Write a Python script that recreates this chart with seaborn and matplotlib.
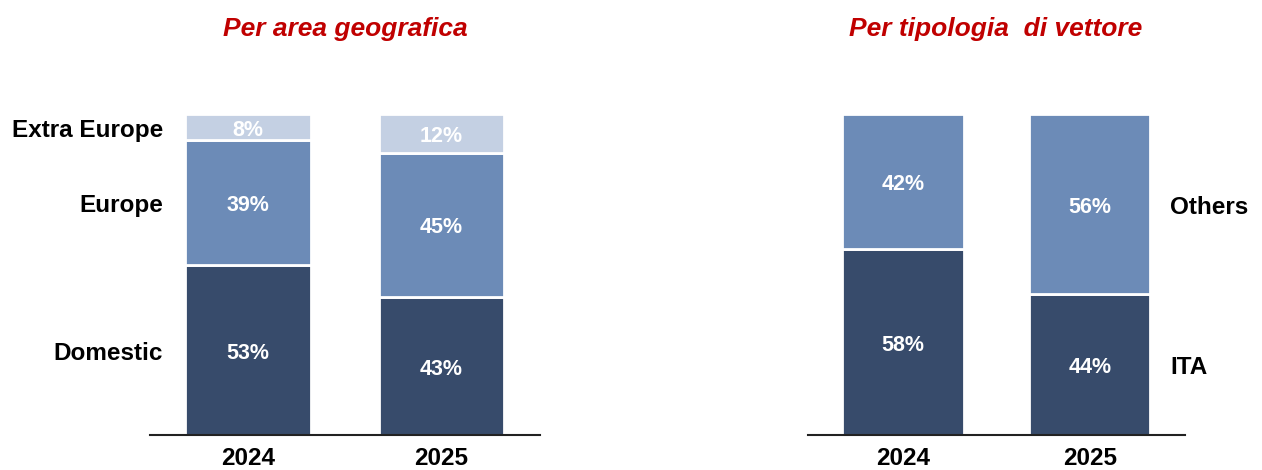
import matplotlib
matplotlib.use("Agg")
import matplotlib.pyplot as plt
import seaborn as sns
import numpy as np
import pandas as pd

sns.set_theme(style="white")
plt.rcParams['font.family'] = ['Liberation Sans', 'DejaVu Sans']

years = ["2024", "2025"]

# Left panel: by geographic area (%)
geo_series = ["Domestic", "Europe", "Extra Europe"]
domestic = [53, 43]
europe = [39, 45]
extra_europe = [8, 12]

# Right panel: by carrier type (%)
carrier_series = ["ITA", "Others"]
ita = [58, 44]
others = [42, 56]

title_left = "Per area geografica"
title_right = "Per tipologia  di vettore"

dark = "#374B6B"
mid = "#6C8BB7"
light = "#C4D0E3"
red = "#C00000"

fig = plt.figure(figsize=(12.62, 4.70), dpi=100)
axL = fig.add_axes([150/1262, 35/470, 390/1262, 321/470])
axR = fig.add_axes([808/1262, 35/470, 377/1262, 321/470])

dy = -0.01  # small downward nudge for text centring


def stacked(ax, series_vals, colors, label_names, label_side):
    bottom = np.zeros(len(years))
    for vals, col, name in zip(series_vals, colors, label_names):
        vals = np.array(vals, dtype=float)
        df = pd.DataFrame({"year": years, "v": vals / 100.0, "b": bottom / 100.0})
        sns.barplot(data=df, x="year", y="v", ax=ax, color=col, width=0.65,
                    bottom=df["b"].values, edgecolor="white", linewidth=2,
                    saturation=1, order=years)
        for i, v in enumerate(vals):
            ax.text(i, (bottom[i] + v / 2) / 100.0 + dy, f"{int(v)}%", ha="center",
                    va="center", color="white", fontsize=15.5, fontweight="bold")
        if label_side == "left":
            ax.text(-0.44, (bottom[0] + vals[0] / 2) / 100.0 + dy, name, ha="right",
                    va="center", fontsize=17.5, fontweight="bold", color="black",
                    clip_on=False)
        else:
            ax.text(1.43, (bottom[1] + vals[1] / 2) / 100.0 + dy, name, ha="left",
                    va="center", fontsize=17.5, fontweight="bold", color="black",
                    clip_on=False)
        bottom = bottom + vals
    ax.set_xlim(-0.508, 1.51)
    ax.set_ylim(0, 1.0)
    ax.set_xlabel("")
    ax.set_ylabel("")
    ax.set_yticks([])
    for s in ["top", "right", "left"]:
        ax.spines[s].set_visible(False)
    ax.spines["bottom"].set_color("#222222")
    ax.spines["bottom"].set_linewidth(1.5)
    ax.tick_params(axis="x", length=0, pad=8.5, labelsize=17.5)
    for t in ax.get_xticklabels():
        t.set_fontweight("bold")
        t.set_color("black")


stacked(axL, [domestic, europe, extra_europe], [dark, mid, light], geo_series, "left")
stacked(axR, [ita, others], [dark, mid], carrier_series, "right")

fig.text(345/1262, 1 - 29/470, title_left, ha="center", va="center", color=red,
         fontsize=19, fontweight="bold", fontstyle="italic")
fig.text(996/1262, 1 - 29/470, title_right, ha="center", va="center", color=red,
         fontsize=19, fontweight="bold", fontstyle="italic")

fig.savefig("out.png", dpi=100, facecolor="white")
